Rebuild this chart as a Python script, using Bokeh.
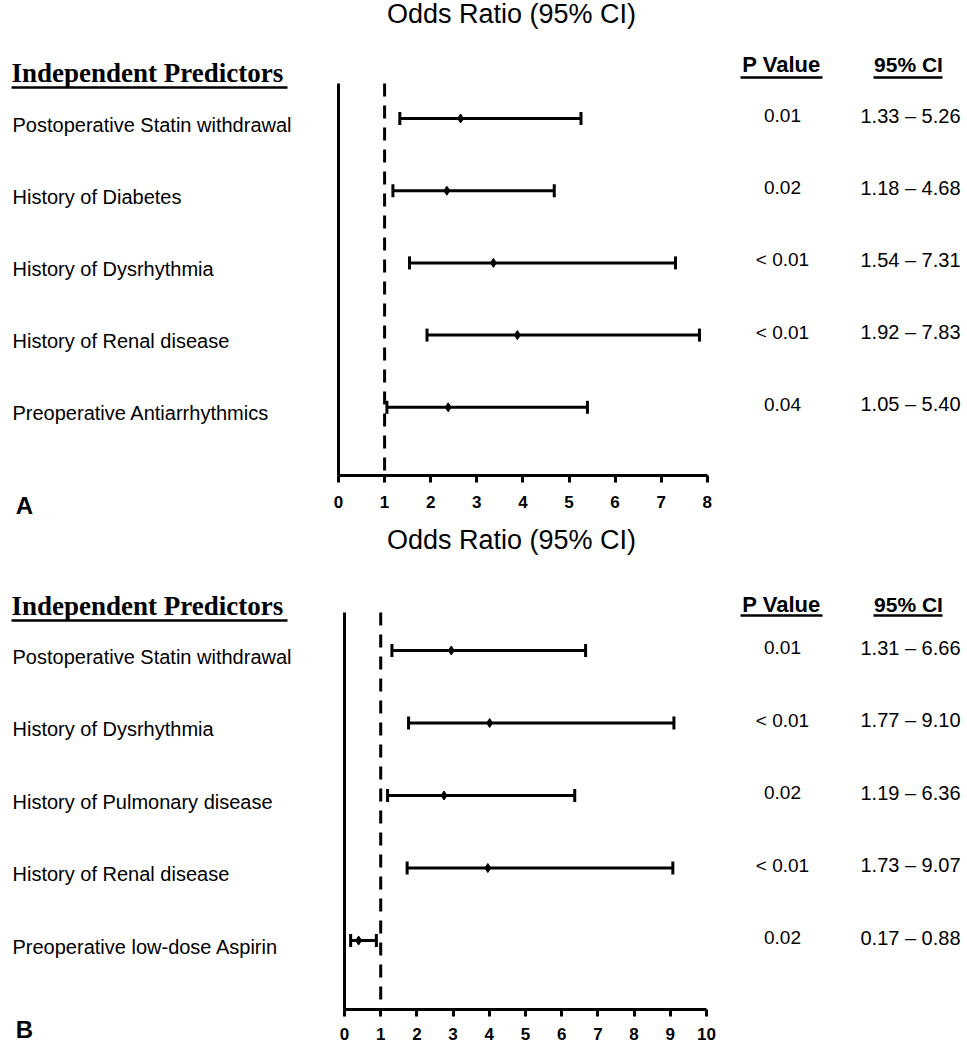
import math
from bokeh.plotting import figure
from bokeh.models import Range1d, FixedTicker, ColumnDataSource
from bokeh.layouts import column
from bokeh.core.properties import value
from bokeh.embed import file_html
from bokeh.resources import INLINE

# ---------------- data ----------------
predictors_a = ["Postoperative Statin withdrawal", "History of Diabetes",
                "History of Dysrhythmia", "History of Renal disease",
                "Preoperative Antiarrhythmics"]
or_a = [2.65, 2.35, 3.36, 3.88, 2.38]
lo_a = [1.33, 1.18, 1.54, 1.92, 1.05]
hi_a = [5.26, 4.68, 7.31, 7.83, 5.40]
p_a = ["0.01", "0.02", "< 0.01", "< 0.01", "0.04"]
ci_a = ["1.33 \u2013 5.26", "1.18 \u2013 4.68", "1.54 \u2013 7.31",
        "1.92 \u2013 7.83", "1.05 \u2013 5.40"]
ticks_a = [0, 1, 2, 3, 4, 5, 6, 7, 8]

predictors_b = ["Postoperative Statin withdrawal", "History of Dysrhythmia",
                "History of Pulmonary disease", "History of Renal disease",
                "Preoperative low-dose Aspirin"]
or_b = [2.95, 4.01, 2.75, 3.96, 0.39]
lo_b = [1.31, 1.77, 1.19, 1.73, 0.17]
hi_b = [6.66, 9.10, 6.36, 9.07, 0.88]
p_b = ["0.01", "< 0.01", "0.02", "< 0.01", "0.02"]
ci_b = ["1.31 \u2013 6.66", "1.77 \u2013 9.10", "1.19 \u2013 6.36",
        "1.73 \u2013 9.07", "0.17 \u2013 0.88"]
ticks_b = [0, 1, 2, 3, 4, 5, 6, 7, 8, 9, 10]

SANS = "Liberation Sans"
SERIF = "Liberation Serif"


def panel(pred, orv, lo, hi, pv, ci, ticks, letter, ci_head, cfg):
    x0px, xunit, y0px, yunit = cfg["x0"], cfg["xu"], cfg["y0"], cfg["yu"]
    X = lambda px: (px - x0px) / xunit
    Y = lambda py: (py - y0px) / yunit
    top, bot, base = cfg["ftop"], cfg["fbot"], cfg["base"]
    p = figure(width=967, height=bot - top, output_backend="svg",
               toolbar_location=None,
               x_range=Range1d(X(0), X(967)),
               y_range=Range1d(Y(bot), Y(top)),
               min_border_left=0, min_border_right=0, min_border_top=0,
               min_border_bottom=0, y_axis_location=None,
               outline_line_color=None, background_fill_color="white",
               border_fill_color="white")
    p.xgrid.visible = False
    p.ygrid.visible = False

    ax = p.xaxis[0]
    ax.fixed_location = Y(base)
    ax.ticker = FixedTicker(ticks=ticks)
    ax.bounds = (ticks[0], ticks[-1])
    ax.axis_line_width = 3
    ax.axis_line_color = "black"
    ax.major_tick_line_width = 3
    ax.major_tick_line_color = "black"
    ax.major_tick_out = 7
    ax.major_tick_in = 0
    ax.minor_tick_line_color = None
    ax.major_label_text_font = SANS
    ax.major_label_text_font_style = "bold"
    ax.major_label_text_font_size = "17px"
    ax.major_label_text_color = "black"
    ax.major_label_standoff = cfg["standoff"]

    rows = list(range(len(pred)))
    n = len(rows)

    # vertical axis line and reference line at OR = 1
    p.segment(x0=[0], y0=[Y(cfg["ytop"])], x1=[0], y1=[Y(base)],
              line_color="black", line_width=3)
    p.segment(x0=[1], y0=[Y(cfg["ytop"])], x1=[1], y1=[Y(base)],
              line_color="black", line_width=3, line_dash="13 9")

    src = ColumnDataSource(dict(y=rows, lo=lo, hi=hi, orv=orv, pred=pred,
                                pv=pv, ci=ci,
                                xl=[X(12)] * n, xp=[X(782)] * n,
                                xc=[X(910)] * n))
    p.segment(x0="lo", y0="y", x1="hi", y1="y", source=src,
              line_color="black", line_width=3)
    p.scatter(x="lo", y="y", source=src, marker="dash", angle=math.pi / 2,
              size=13, line_width=3, line_color="black")
    p.scatter(x="hi", y="y", source=src, marker="dash", angle=math.pi / 2,
              size=13, line_width=3, line_color="black")
    p.scatter(x="orv", y="y", source=src, marker="diamond", size=9,
              line_color="black", fill_color="black")

    p.text(x="xl", y="y", text="pred", source=src, text_font=value(SANS),
           text_font_size="20px", text_align="left", text_baseline="middle",
           y_offset=6, text_color="black")
    p.text(x="xp", y="y", text="pv", source=src, text_font=value(SANS),
           text_font_size="19px", text_align="center", text_baseline="middle",
           y_offset=-3, text_color="black")
    p.text(x="xc", y="y", text="ci", source=src, text_font=value(SANS),
           text_font_size="20px", text_align="center", text_baseline="middle",
           y_offset=-3, text_color="black")

    # headers
    p.text(x=[X(511)], y=[Y(cfg["title"])], text=["Odds Ratio (95% CI)"],
           text_font=value(SANS), text_font_size="27px", text_align="center",
           text_baseline="middle", text_color="black")
    p.text(x=[X(11)], y=[Y(cfg["head"])], text=["Independent Predictors"],
           text_font=value(SERIF), text_font_style="bold",
           text_font_size="27px", text_align="left", text_baseline="middle",
           text_color="black")
    p.segment(x0=[X(11)], y0=[Y(cfg["uline"])], x1=[X(287)],
              y1=[Y(cfg["uline"])], line_color="black", line_width=2.5)
    p.text(x=[X(781)], y=[Y(cfg["phead"])], text=["P Value"],
           text_font=value(SANS), text_font_style="bold",
           text_font_size="22px", text_align="center", text_baseline="middle",
           text_color="black")
    p.segment(x0=[X(740)], y0=[Y(cfg["pul"])], x1=[X(822)],
              y1=[Y(cfg["pul"])], line_color="black", line_width=2.5)
    p.text(x=[X(908)], y=[Y(cfg["phead"])], text=[ci_head],
           text_font=value(SANS), text_font_style="bold",
           text_font_size="21px", text_align="center", text_baseline="middle",
           text_color="black")
    p.segment(x0=[X(873)], y0=[Y(cfg["pul"])], x1=[X(942)],
              y1=[Y(cfg["pul"])], line_color="black", line_width=2.5)

    p.text(x=[X(24)], y=[Y(cfg["letter"])], text=[letter],
           text_font=value(SANS), text_font_style="bold",
           text_font_size="24px", text_align="center",
           text_baseline="middle", text_color="black")
    return p


cfg_a = dict(x0=338, xu=46.1, y0=118, yu=72.2, ftop=0, fbot=525, base=475,
             ytop=83, standoff=13, title=13, head=72, uline=87,
             phead=64, pul=77, letter=505)
cfg_b = dict(x0=344, xu=36.2, y0=650, yu=72.5, ftop=525, fbot=1043,
             base=1009, ytop=612, standoff=11, title=539, head=605,
             uline=620, phead=604, pul=615, letter=1029)

p1 = panel(predictors_a, or_a, lo_a, hi_a, p_a, ci_a, ticks_a, "A",
           "95% CI", cfg_a)
p2 = panel(predictors_b, or_b, lo_b, hi_b, p_b, ci_b, ticks_b, "B",
           "95% CI", cfg_b)

layout = column(p1, p2, spacing=0)
open("out.html", "w").write(file_html(layout, INLINE))
